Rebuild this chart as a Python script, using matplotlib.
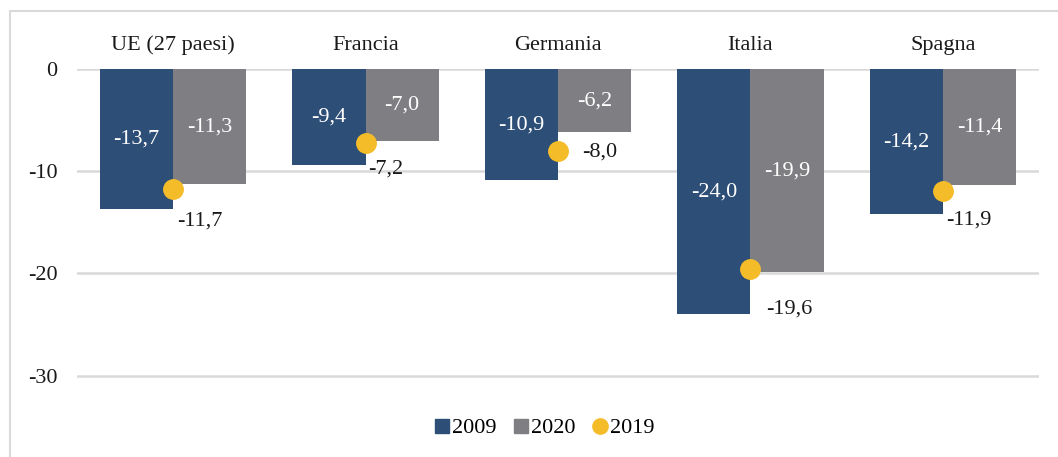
import numpy as np
import matplotlib.pyplot as plt
from matplotlib.lines import Line2D
from matplotlib.patches import Rectangle

paesi = ['UE (27 paesi)', 'Francia', 'Germania', 'Italia', 'Spagna']
val_2009 = [-13.7, -9.4, -10.9, -24.0, -14.2]
val_2020 = [-11.3, -7.0, -6.2, -19.9, -11.4]
val_2019 = [-11.7, -7.2, -8.0, -19.6, -11.9]

# posizione delle etichette 2019 (pixel rispetto al punto)
off_2019 = [(4, -32), (3, -26), (24, -1), (16, -40), (3, -29)]

c_blu = '#2D4E76'
c_grigio = '#7F7F83'
c_giallo = '#F5BC2A'

plt.rcParams['font.family'] = ['Liberation Serif', 'DejaVu Serif']
fs = 16

W, H = 1058, 457
fig = plt.figure(figsize=(W / 100, H / 100), dpi=100)
ax = fig.add_axes([77 / W, 1 - 396 / H, (1039 - 77) / W, (396 - 69) / H])

x = np.arange(len(paesi))
w = 0.38
b1 = ax.bar(x - w / 2, val_2009, w, color=c_blu, zorder=2)
b2 = ax.bar(x + w / 2, val_2020, w, color=c_grigio, zorder=2)
ax.plot(x, val_2019, 'o', color=c_giallo, markersize=14, zorder=3, linestyle='none')

def fmt(v):
    return f'{v:.1f}'.replace('.', ',')

for bars, vals in [(b1, val_2009), (b2, val_2020)]:
    for r, v in zip(bars, vals):
        ax.text(r.get_x() + r.get_width() / 2, v / 2, fmt(v), color='white',
                ha='center', va='center', fontsize=fs, zorder=4)

for xi, v, off in zip(x, val_2019, off_2019):
    ax.annotate(fmt(v), (xi, v), xytext=off, textcoords='offset pixels',
                ha='left', va='center', fontsize=fs, color='#1a1a1a', zorder=4)

ax.set_xlim(-0.5, len(paesi) - 0.5)
ax.set_ylim(-32, 0)
ax.set_yticks([0, -10, -20, -30])
ax.set_yticklabels(['0', '-10', '-20', '-30'])
ax.grid(axis='y', color='#D9D9D9', linewidth=1.8, zorder=0)
ax.set_axisbelow(True)
for s in ax.spines.values():
    s.set_visible(False)

ax.xaxis.tick_top()
ax.set_xticks(x)
ax.set_xticklabels(paesi, fontsize=fs, color='#1a1a1a')
ax.tick_params(axis='x', length=0, pad=10)
ax.tick_params(axis='y', length=0, pad=14, labelsize=fs, labelcolor='#1a1a1a')

handles = [
    Line2D([], [], marker='s', color=c_blu, linestyle='none', markersize=10),
    Line2D([], [], marker='s', color=c_grigio, linestyle='none', markersize=10),
    Line2D([], [], marker='o', color=c_giallo, linestyle='none', markersize=11),
]
fig.legend(handles, ['2009', '2020', '2019'], loc='center',
           bbox_to_anchor=(544 / W, 1 - 428 / H), ncol=3, frameon=False,
           fontsize=fs, handletextpad=0.05, columnspacing=0.7, handlelength=0.8)

fig.patches.append(Rectangle((10 / W, -0.05), 1.2, 1 - 11 / H + 0.05,
                             transform=fig.transFigure, fill=False,
                             edgecolor='#D9D9D9', linewidth=1.5))

fig.savefig('out.png', dpi=100)
